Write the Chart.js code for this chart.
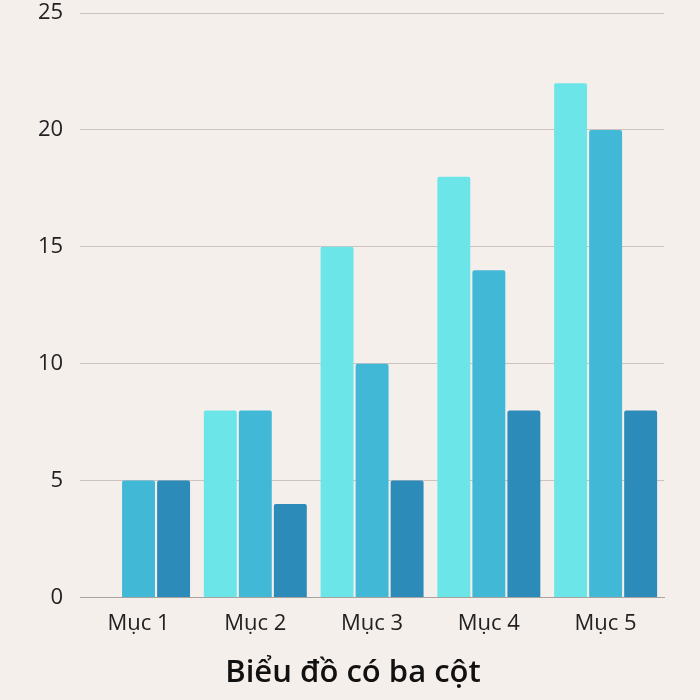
<!DOCTYPE html>
<html>
<head>
<meta charset="utf-8">
<script src="https://cdn.jsdelivr.net/npm/chart.js@4"></script>
<style>
  html, body { margin: 0; padding: 0; background: #f5efec; }
  #wrap { width: 700px; height: 700px; }
</style>
</head>
<body>
<div id="wrap"><canvas id="chart"></canvas></div>
<script>
const categories = ['Mục 1', 'Mục 2', 'Mục 3', 'Mục 4', 'Mục 5'];
const series1 = [0, 8, 15, 18, 22];
const series2 = [5, 8, 10, 14, 20];
const series3 = [5, 4, 5, 8, 8];
const yTicks = [0, 5, 10, 15, 20, 25];

const ctx = document.getElementById('chart').getContext('2d');

// dịch tiêu đề cho giữa trang
const centerTitle = {
    id: 'centerTitle',
    afterLayout(chart) {
        const t = chart.titleBlock;
        if (t) { t.left = 6; t.right = 700; }
    }
};

new Chart(ctx, {
    type: 'bar',
    data: {
        labels: categories,
        datasets: [
            { label: 'Cột 1', data: series1, backgroundColor: '#6ce5e8' },
            { label: 'Cột 2', data: series2, backgroundColor: '#41b8d5' },
            { label: 'Cột 3', data: series3, backgroundColor: '#2d8bba' }
        ]
    },
    plugins: [centerTitle],
    options: {
        responsive: true,
        maintainAspectRatio: false,
        animation: false,
        layout: { padding: { top: 0, right: 36, left: 21, bottom: 0 } },
        datasets: {
            bar: { categoryPercentage: 0.9, barPercentage: 0.94, borderRadius: 2 }
        },
        plugins: {
            legend: { display: false },
            tooltip: { enabled: false },
            title: {
                display: true,
                position: 'bottom',
                text: 'Biểu đồ có ba cột',
                color: '#111',
                padding: { top: 5, bottom: 8 },
                font: { family: 'Open Sans', size: 31, weight: 600 }
            }
        },
        scales: {
            x: {
                grid: { display: false, drawTicks: false },
                border: { display: true, color: '#a9a3a0', width: 1 },
                ticks: {
                    color: '#222',
                    padding: 13,
                    font: { family: 'Open Sans', size: 22 }
                }
            },
            y: {
                min: 0,
                max: 25,
                afterBuildTicks: (axis) => { axis.ticks = yTicks.map(v => ({ value: v })); },
                afterFit: (axis) => { axis.paddingTop = 13; },
                grid: { color: '#cbc3bf', drawTicks: false },
                border: { display: false },
                ticks: {
                    color: '#222',
                    padding: 17,
                    font: { family: 'Open Sans', size: 22 }
                }
            }
        }
    }
});
</script>
</body>
</html>
